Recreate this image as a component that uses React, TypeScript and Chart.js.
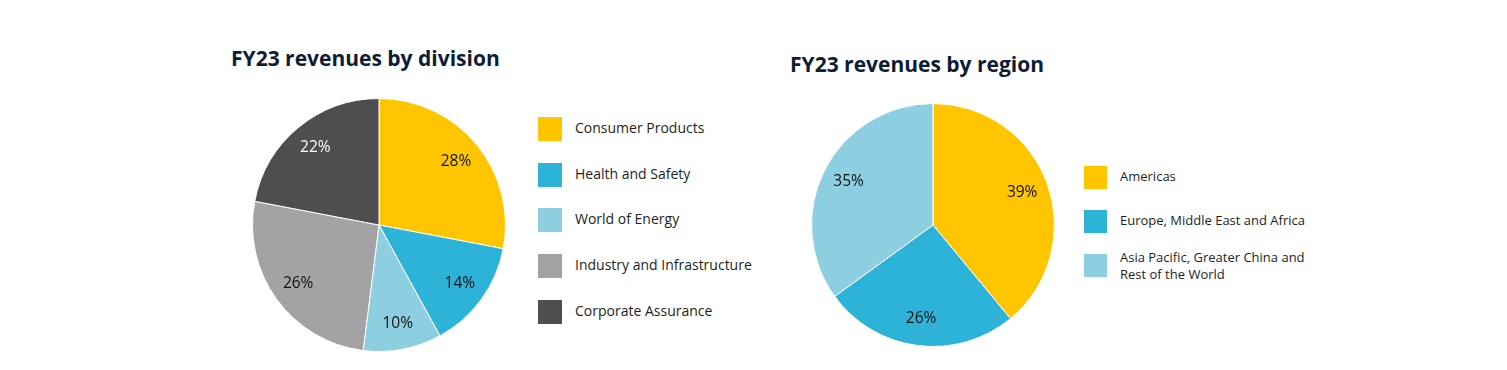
import React, { useEffect, useRef } from "react";
import { Chart, registerables } from "chart.js";
Chart.register(...registerables);

const divisionTitle = "FY23 revenues by division";
const divisionLabels = ["Consumer Products", "Health and Safety", "World of Energy", "Industry and Infrastructure", "Corporate Assurance"];
const divisionValues = [28, 14, 10, 26, 22];
const divisionColors = ["#FFC600", "#2DB2D8", "#8DCFE0", "#A3A3A5", "#4E4E50"];
const divisionLabelColors = ["#111111", "#111111", "#111111", "#111111", "#FFFFFF"];

const regionTitle = "FY23 revenues by region";
const regionLabels = ["Americas", "Europe, Middle East and Africa", "Asia Pacific, Greater China and Rest of the World"];
const regionLegendLines = [["Americas"], ["Europe, Middle East and Africa"], ["Asia Pacific, Greater China and", "Rest of the World"]];
const regionValues = [39, 26, 35];
const regionColors = ["#FFC600", "#2DB2D8", "#8DCFE0"];
const regionLabelColors = ["#111111", "#111111", "#111111"];

const FONT = "'Open Sans', 'DejaVu Sans', sans-serif";

type PieProps = {
  labels: string[];
  values: number[];
  colors: string[];
  labelColors: string[];
  left: number;
  top: number;
  size: number;
  ratio: number;
};

function Pie({ labels, values, colors, labelColors, left, top, size, ratio }: PieProps) {
  const ref = useRef<HTMLCanvasElement | null>(null);
  useEffect(() => {
    if (!ref.current) return;
    const pctPlugin = {
      id: "pct",
      afterDatasetsDraw(chart: any) {
        const ctx = chart.ctx;
        const meta = chart.getDatasetMeta(0);
        const data = chart.data.datasets[0].data as number[];
        meta.data.forEach((arc: any, i: number) => {
          const p = arc.getProps(["x", "y", "startAngle", "endAngle", "outerRadius"], true);
          const mid = (p.startAngle + p.endAngle) / 2;
          const r = p.outerRadius * ratio;
          ctx.save();
          ctx.font = `500 15.5px ${FONT}`;
          ctx.fillStyle = labelColors[i];
          ctx.textAlign = "center";
          ctx.textBaseline = "middle";
          ctx.fillText(`${data[i]}%`, p.x + Math.cos(mid) * r, p.y + Math.sin(mid) * r);
          ctx.restore();
        });
      },
    };
    const chart = new Chart(ref.current, {
      type: "pie",
      data: {
        labels,
        datasets: [
          {
            data: values,
            backgroundColor: colors,
            borderColor: "#FFFFFF",
            borderWidth: 1,
          },
        ],
      },
      options: {
        animation: false,
        responsive: false,
        devicePixelRatio: 1,
        layout: { padding: 3 },
        plugins: {
          legend: { display: false },
          tooltip: { enabled: false },
          title: { display: false },
        },
      },
      plugins: [pctPlugin],
    });
    return () => chart.destroy();
  }, []);
  return (
    <canvas
      ref={ref}
      width={size}
      height={size}
      style={{ position: "absolute", left, top, width: size, height: size }}
    />
  );
}

const titleStyle: React.CSSProperties = {
  position: "absolute",
  fontFamily: FONT,
  fontWeight: 700,
  fontSize: 21,
  color: "#0E1C36",
  whiteSpace: "nowrap",
  lineHeight: "24px",
};

const legendText: React.CSSProperties = {
  position: "absolute",
  fontFamily: FONT,
  fontSize: 14,
  color: "#1E1E1E",
  whiteSpace: "nowrap",
  lineHeight: "17px",
};

export default function App() {
  const divTops = [117, 163, 208, 254, 300];
  const regTops = [166, 210, 254];
  return (
    <div style={{ position: "absolute", left: 0, top: 0, width: 1507, height: 370, background: "#FFFFFF", overflow: "hidden" }}>
      <div style={{ ...titleStyle, left: 231, top: 46 }}>{divisionTitle}</div>
      <div style={{ ...titleStyle, left: 790, top: 52 }}>{regionTitle}</div>
      <Pie labels={divisionLabels} values={divisionValues} colors={divisionColors} labelColors={divisionLabelColors} left={249} top={95} size={260} ratio={0.79} />
      <Pie labels={regionLabels} values={regionValues} colors={regionColors} labelColors={regionLabelColors} left={808} top={100} size={250} ratio={0.78} />
      {divisionLabels.map((l, i) => (
        <React.Fragment key={l}>
          <div style={{ position: "absolute", left: 538, top: divTops[i], width: 24, height: 24, background: divisionColors[i] }} />
          <div style={{ ...legendText, left: 575, top: divTops[i] + 2 }}>{l}</div>
        </React.Fragment>
      ))}
      {regionLegendLines.map((lines, i) => (
        <React.Fragment key={i}>
          <div style={{ position: "absolute", left: 1084, top: regTops[i], width: 23, height: 23, background: regionColors[i] }} />
          <div style={{ ...legendText, fontSize: 13, left: 1120, top: regTops[i] + 2 - (lines.length - 1) * 7 }}>
            {lines.map((t, j) => (
              <div key={j}>{t}</div>
            ))}
          </div>
        </React.Fragment>
      ))}
    </div>
  );
}
